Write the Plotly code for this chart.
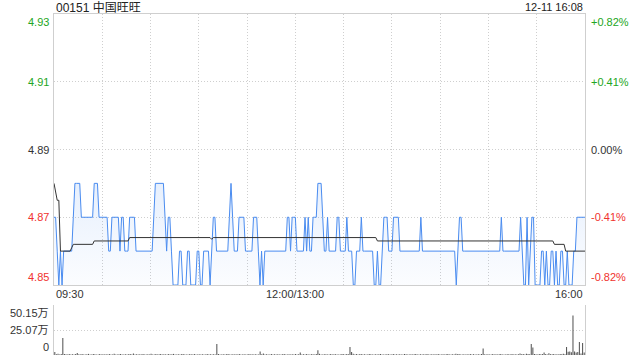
import plotly.graph_objects as go

# ---------------- data ----------------
title_text = "00151 中国旺旺"
date_text = "12-11 16:08"
prev_close = 4.89

# price as runs of (price, minutes)
price_runs = [
    (4.87, 2), (4.86, 1), (4.85, 1), (4.86, 1), (4.85, 1), (4.86, 6), (4.87, 1), (4.88, 4),
    (4.87, 8), (4.88, 3), (4.87, 6), (4.86, 2), (4.87, 5), (4.86, 1), (4.87, 2), (4.86, 3),
    (4.87, 4), (4.86, 11), (4.87, 1), (4.88, 6), (4.87, 1), (4.86, 1), (4.87, 2), (4.86, 1),
    (4.85, 4), (4.86, 2), (4.85, 3), (4.86, 2), (4.85, 4), (4.86, 2), (4.85, 2), (4.86, 4),
    (4.85, 1), (4.86, 1), (4.87, 2), (4.86, 8), (4.87, 1), (4.88, 1),
    (4.87, 1), (4.86, 3), (4.87, 4), (4.86, 5), (4.87, 3), (4.86, 1), (4.85, 1), (4.86, 1),
    (4.85, 1), (4.86, 14), (4.87, 2), (4.86, 1), (4.87, 3), (4.86, 5), (4.87, 1), (4.86, 1),
    (4.87, 1), (4.86, 2), (4.87, 3), (4.88, 3), (4.87, 1), (4.86, 2), (4.87, 1), (4.86, 5),
    (4.87, 2), (4.86, 4), (4.87, 1), (4.86, 3), (4.85, 2), (4.86, 3), (4.87, 1), (4.86, 7),
    (4.85, 2), (4.86, 1), (4.85, 2), (4.86, 1), (4.87, 3), (4.86, 3), (4.87, 4), (4.86, 13),
    (4.87, 1), (4.86, 21), (4.85, 1), (4.86, 1), (4.87, 2), (4.86, 24), (4.87, 1), (4.86, 11),
    (4.87, 1), (4.86, 1), (4.85, 2), (4.87, 1), (4.85, 1), (4.86, 1), (4.87, 2), (4.85, 4),
    (4.86, 2), (4.85, 1), (4.86, 1), (4.85, 2), (4.86, 2), (4.85, 1), (4.86, 1), (4.85, 2),
    (4.86, 2), (4.85, 2), (4.86, 1), (4.85, 3), (4.86, 2), (4.87, 6),
]

# average price as runs of (price, minutes)
avg_runs = [
    (4.880, 1), (4.877, 1), (4.875, 2), (4.860, 7), (4.861, 1), (4.862, 13), (4.863, 22),
    (4.864, 51), (4.8635, 1), (4.864, 102), (4.863, 110), (4.862, 7), (4.860, 13),
]

# volume per minute (万股)
volume = [
    3.0, 0.8, 1.2, 0.6, 0.9, 17.0, 1.1, 0.7, 0.5, 0.9, 0.6, 0.8, 0.4, 1.0, 2.0, 0.7, 0.5, 0.9, 0.6, 0.4, 0.8, 1.1, 0.5, 0.6, 0.9, 0.7, 0.4, 0.6, 1.0, 0.5,
    0.7, 0.5, 0.8, 0.4, 0.9, 0.6, 0.5, 1.2, 0.6, 0.4, 0.7, 0.9, 0.5, 0.6, 0.8, 0.4, 0.7, 1.0, 0.5, 1.6, 0.6, 0.8, 0.4, 0.7, 0.5, 0.9, 0.6, 0.4, 0.8, 0.5,
    1.3, 0.6, 0.5, 0.9, 0.4, 0.7, 1.0, 0.5, 0.8, 0.6, 0.4, 0.9, 0.5, 0.7, 1.1, 0.6, 0.4, 0.8, 0.5, 0.7, 0.9, 0.4, 0.6, 0.5, 0.8, 0.7, 0.4, 0.9, 0.6, 0.5,
    0.7, 0.5, 0.8, 0.6, 0.4, 0.9, 0.5, 0.7, 0.6, 0.8, 0.5, 11.0, 1.0, 0.6, 0.4, 0.8, 0.5, 0.7, 0.9, 0.4, 0.6, 0.8, 0.5, 0.7, 0.4, 0.9, 0.6, 0.5, 0.8, 0.4,
    0.6, 0.9, 0.5, 0.7, 0.4, 0.8, 0.6, 0.5, 3.4, 0.7, 1.5, 0.5, 0.8, 0.6, 0.4, 0.9, 0.5, 0.7, 0.6, 0.8, 0.5, 0.4, 0.7, 0.9, 0.6, 0.5, 0.8, 0.4, 0.7, 0.6,
    0.9, 0.6, 0.8, 2.4, 0.5, 0.7, 0.4, 0.9, 0.6, 0.5, 0.8, 0.7, 0.4, 0.9, 4.8, 1.2, 0.6, 0.5, 0.8, 0.7, 0.4, 0.6, 0.9, 0.5, 0.7, 0.8, 0.4, 0.6, 0.5, 0.9,
    0.7, 0.5, 1.1, 0.8, 7.9, 3.0, 1.2, 0.6, 0.9, 0.5, 0.7, 1.0, 0.4, 0.8, 0.6, 0.5, 0.9, 0.7, 0.4, 0.6, 0.8, 0.5, 0.7, 0.9, 0.4, 0.6, 0.5, 0.8, 0.7, 0.5,
    0.6, 0.9, 0.5, 0.7, 0.4, 0.8, 0.6, 0.5, 0.9, 0.7, 0.4, 0.6, 0.8, 0.5, 0.7, 0.9, 0.6, 0.4, 0.8, 0.5, 0.7, 0.6, 0.9, 0.5, 0.4, 0.8, 0.6, 0.7, 0.5, 0.9,
    0.6, 0.4, 0.8, 0.5, 0.7, 0.9, 0.6, 0.5, 0.8, 0.4, 1.2, 0.7, 0.9, 0.5, 0.6, 0.8, 0.4, 0.7, 0.5, 0.9, 0.6, 0.8, 0.5, 0.4, 0.7, 0.6, 0.9, 6.5, 0.8, 0.5,
    0.7, 0.4, 0.6, 0.9, 0.5, 0.8, 0.6, 0.7, 0.9, 0.5, 0.6, 0.4, 0.8, 0.7, 0.5, 0.9, 0.6, 0.8, 0.4, 0.7, 1.4, 0.8, 1.0, 0.6, 1.2, 0.9, 0.7, 11.0, 7.5, 1.0,
    0.8, 0.6, 1.1, 0.7, 0.9, 2.6, 1.0, 0.6, 1.8, 0.8, 0.7, 0.9, 0.5, 0.8, 0.6, 0.9, 0.7, 1.2, 0.8, 8.0, 3.2, 3.6, 2.8, 39.5, 3.4, 2.6, 3.0, 13.0, 1.5, 12.0,
    2.5,
]

price_ticks = [4.85, 4.87, 4.89, 4.91, 4.93]
pct_labels = ["-0.82%", "-0.41%", "0.00%", "+0.41%", "+0.82%"]
vol_ticks = [0, 25.07, 50.15]
vol_labels = ["0", "25.07万", "50.15万"]
time_ticks = [0, 150, 330]
time_labels = ["09:30", "12:00/13:00", "16:00"]
total_minutes = 330

# ---------------- build ----------------
def expand(runs):
    out = []
    for v, n in runs:
        out.extend([v] * n)
    return out

price = expand(price_runs)
avg = expand(avg_runs)
xs = list(range(len(price)))
xa = list(range(len(avg)))
xv = list(range(len(volume)))

FONT = "Liberation Sans, Arial, Noto Sans CJK SC, sans-serif"
GRID = "#cfcfcf"
DOT = "1px,2px"
RED = "#f0322d"
GREEN = "#22a622"
BLUE = "#4a8cf0"

fig = go.Figure()
fig.add_trace(go.Scatter(
    x=xs, y=price, mode="lines", line=dict(color=BLUE, width=1),
    fill="tozeroy",
    fillgradient=dict(type="vertical", start=4.85, stop=4.88,
                      colorscale=[[0, "rgba(74,140,240,0.02)"], [1, "rgba(74,140,240,0.13)"]]),
    xaxis="x", yaxis="y", hoverinfo="skip", showlegend=False))
fig.add_trace(go.Scatter(
    x=xa, y=avg, mode="lines", line=dict(color="#333333", width=1),
    xaxis="x", yaxis="y", hoverinfo="skip", showlegend=False))
fig.add_trace(go.Bar(
    x=xv, y=volume, marker=dict(color="#555555", line=dict(width=0)),
    xaxis="x2", yaxis="y2", hoverinfo="skip", showlegend=False))

H_PLOT = 341.0
fig.update_layout(
    width=640, height=360,
    margin=dict(l=54, r=55, t=14, b=5),
    paper_bgcolor="white", plot_bgcolor="white",
    bargap=0.35,
    font=dict(family=FONT, size=11, color="#333333"),
    xaxis=dict(domain=[0, 1], range=[0, total_minutes], tickvals=list(range(0, 331, 30)),
               showticklabels=False, ticks="", showgrid=True, gridcolor=GRID, griddash=DOT,
               gridwidth=1, showline=True, mirror=True, linecolor=GRID, linewidth=1,
               zeroline=False, fixedrange=True),
    yaxis=dict(domain=[70 / H_PLOT, 1], range=[4.85, 4.93], tickvals=price_ticks,
               showticklabels=False, ticks="", showgrid=True, gridcolor=GRID, griddash=DOT,
               showline=True, mirror=True, linecolor=GRID, linewidth=1, zeroline=False),
    xaxis2=dict(domain=[0, 1], range=[-0.5, total_minutes + 0.5], anchor="y2",
                showticklabels=False, ticks="", showgrid=False, showline=False, zeroline=False),
    yaxis2=dict(domain=[0, 50 / H_PLOT], range=[0, 50.15], tickvals=vol_ticks, anchor="x2",
                showticklabels=False, ticks="", showgrid=True, gridcolor=GRID, griddash=DOT,
                showline=True, mirror=True, linecolor=GRID, linewidth=1, zeroline=False),
)

ann = []
for i, (p, pl) in enumerate(zip(price_ticks, pct_labels)):
    if abs(p - prev_close) < 1e-9:
        col = "#333333"
    elif p > prev_close:
        col = GREEN
    else:
        col = RED
    if i == 0:
        ya = "bottom"
    elif i == len(price_ticks) - 1:
        ya = "top"
    else:
        ya = "middle"
    ann.append(dict(x=0, xref="paper", y=p, yref="y", text=f"{p:.2f}", showarrow=False,
                    xanchor="right", yanchor=ya, xshift=-3, font=dict(color=col, size=11)))
    ann.append(dict(x=1, xref="paper", y=p, yref="y", text=pl, showarrow=False,
                    xanchor="left", yanchor=ya, xshift=4, font=dict(color=col, size=11)))
for i, (v, vl) in enumerate(zip(vol_ticks, vol_labels)):
    ya = "bottom" if i == 0 else ("top" if i == len(vol_ticks) - 1 else "middle")
    ann.append(dict(x=0, xref="paper", y=v, yref="y2", text=vl, showarrow=False,
                    xanchor="right", yanchor=ya, xshift=-3, font=dict(color="#333333", size=11)))
for t, tl in zip(time_ticks, time_labels):
    xanc = "left" if t == time_ticks[0] else ("right" if t == time_ticks[-1] else "center")
    ann.append(dict(x=t, xref="x", y=70 / H_PLOT, yref="paper", text=tl, showarrow=False,
                    xanchor=xanc, yanchor="top", yshift=-1, font=dict(color="#333333", size=11)))
ann.append(dict(x=0, xref="paper", y=1, yref="paper", text=title_text, showarrow=False,
                xanchor="left", yanchor="middle", yshift=7, font=dict(color="#222222", size=12)))
ann.append(dict(x=1, xref="paper", y=1, yref="paper", text=date_text, showarrow=False,
                xanchor="right", yanchor="middle", yshift=7, font=dict(color="#222222", size=11)))
fig.update_layout(annotations=ann)

fig.write_html("out.html", config={"displayModeBar": False, "staticPlot": True},
               post_script="document.body.style.margin='0';document.body.style.overflow='hidden';")
